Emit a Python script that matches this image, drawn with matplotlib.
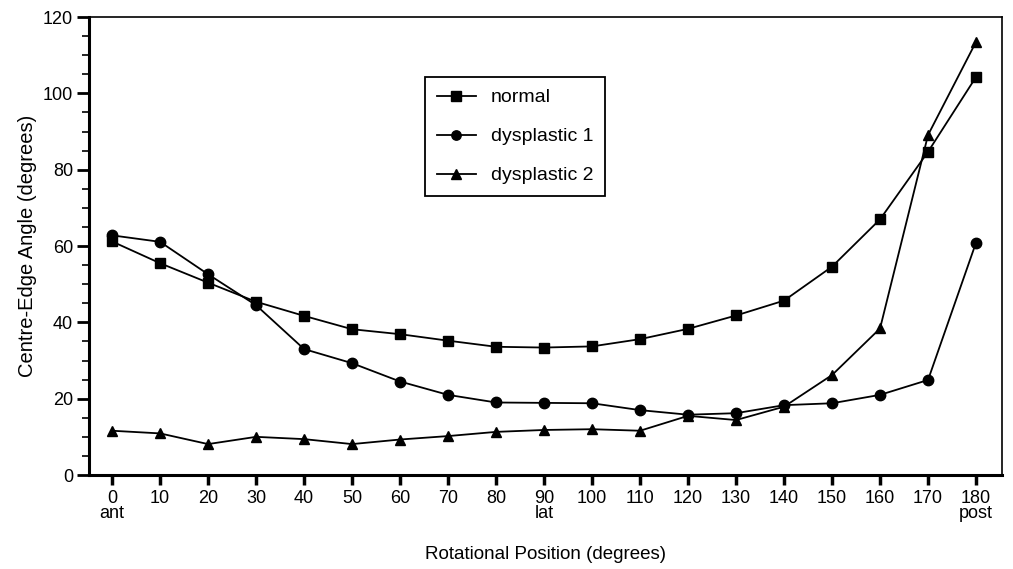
import matplotlib
matplotlib.use("Agg")
import matplotlib.pyplot as plt
from matplotlib.ticker import MultipleLocator

plt.rcParams["font.family"] = ["Liberation Sans", "DejaVu Sans"]

positions = [0, 10, 20, 30, 40, 50, 60, 70, 80, 90, 100, 110, 120, 130, 140, 150, 160, 170, 180]
normal = [61.2, 55.5, 50.4, 45.4, 41.7, 38.2, 36.9, 35.2, 33.6, 33.4, 33.7, 35.6, 38.3, 41.8,
          45.7, 54.6, 67.0, 84.7, 104.3]
dysplastic_1 = [62.8, 61.1, 52.6, 44.5, 33.0, 29.3, 24.5, 21.0, 19.0, 18.9, 18.8, 17.0, 15.8, 16.2,
                18.3, 18.8, 21.0, 24.9, 60.9]
dysplastic_2 = [11.6, 10.9, 8.1, 10.0, 9.4, 8.1, 9.3, 10.2, 11.3, 11.8, 12.0, 11.6, 15.5, 14.4,
                17.9, 26.2, 38.4, 89.1, 113.5]
tick_labels = ["0\nant", "10", "20", "30", "40", "50", "60", "70", "80", "90\nlat", "100", "110",
               "120", "130", "140", "150", "160", "170", "180\npost"]

fig = plt.figure(figsize=(10.13, 5.69), dpi=100)
ax = fig.add_axes([0.0879, 0.1652, 0.9012, 0.8048])

ax.plot(positions, normal, color="black", lw=1.3, marker="s", ms=7.5, label="normal")
ax.plot(positions, dysplastic_1, color="black", lw=1.3, marker="o", ms=7.5, label="dysplastic 1")
ax.plot(positions, dysplastic_2, color="black", lw=1.3, marker="^", ms=7.5, label="dysplastic 2")

ax.set_xlim(-4.8, 185.4)
ax.set_ylim(0, 120)
ax.set_xticks(positions)
ax.set_xticklabels(tick_labels, fontsize=13, linespacing=0.85, va="top")
ax.yaxis.set_major_locator(MultipleLocator(20))
ax.yaxis.set_minor_locator(MultipleLocator(5))
ax.tick_params(axis="y", labelsize=13, length=9, width=2, direction="out", pad=2.5)
ax.tick_params(axis="y", which="minor", length=5, width=1.2)
ax.tick_params(axis="x", length=7, width=2.5, direction="out", pad=4)

ax.spines["left"].set_linewidth(2.2)
ax.spines["bottom"].set_linewidth(2.2)
ax.spines["top"].set_linewidth(1.2)
ax.spines["right"].set_linewidth(1.2)

ax.set_xlabel("Rotational Position (degrees)", fontsize=13.5, labelpad=17)
ax.set_ylabel("Centre-Edge Angle (degrees)", fontsize=14.5, labelpad=4)

leg = ax.legend(loc="upper left", bbox_to_anchor=(0.368, 0.869), borderaxespad=0,
                fontsize=14, fancybox=False, edgecolor="black", framealpha=1,
                handlelength=2.0, handletextpad=0.8, labelspacing=1.1, borderpad=0.6,
                markerscale=0.9)
leg.get_frame().set_linewidth(1.3)

fig.savefig("out.png", dpi=100)
